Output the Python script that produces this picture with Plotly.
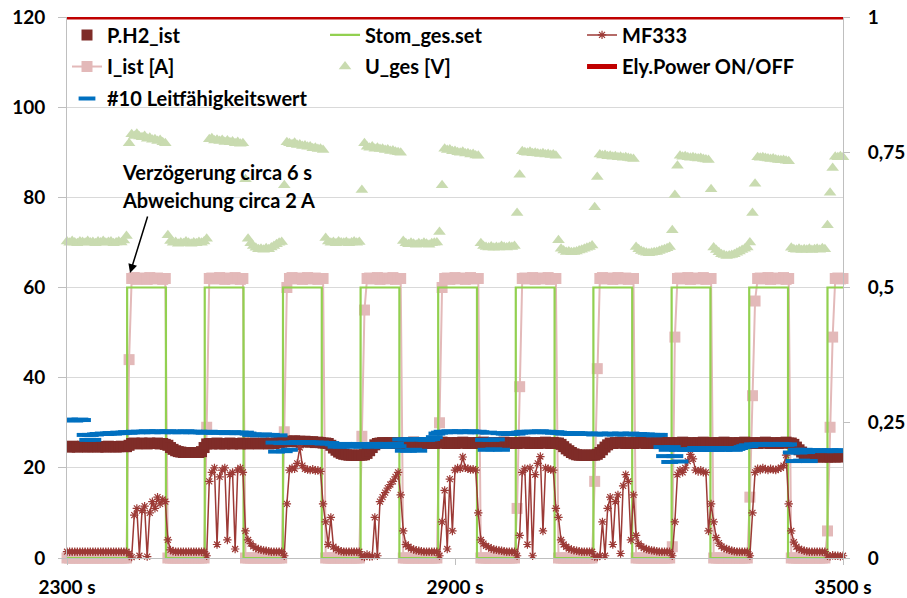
import plotly.graph_objects as go

# ---------------------------------------------------------------------------
# Sample times (4 s logging interval, 2300 s .. 3500 s)
# ---------------------------------------------------------------------------
T_START = 2300
T_STEP = 4
N_SAMPLES = 301
t = [T_START + T_STEP * i for i in range(N_SAMPLES)]

# Set point of the stack current (switching instants and levels)
stom_t = [2300, 2393, 2453, 2513, 2573, 2634, 2694, 2754, 2814, 2874, 2934,
          2994, 3054, 3114, 3174, 3235, 3295, 3355, 3415, 3476, 3500]
stom_v = [0, 60, 0, 60, 0, 60, 0, 60, 0, 60, 0,
          60, 0, 60, 0, 60, 0, 60, 0, 60, 60]

# Electrolyser power state (right axis)
power_t = [2300, 3500]
power_v = [1, 1]

# Measured stack current I_ist [A]
i_ist = [
    0, 0, 0, 0, 0, 0, 0, 0, 0, 0,
    0, 0, 0, 0, 0, 0, 0, 0, 0, 0,
    0, 0, 0, 0, 44, 62, 62.2, 61.8, 62, 62.1,
    62, 61.8, 62.2, 62, 61.9, 62.1, 62, 61.8, 62, 0,
    0, 0, 0, 0, 0, 0, 0, 0, 0, 0,
    0, 0, 0, 0, 29, 62, 62.1, 61.9, 62, 62.2,
    62, 61.8, 62.1, 62, 61.9, 62.2, 62, 61.8, 62, 0,
    0, 0, 0, 0, 0, 0, 0, 0, 0, 0,
    0, 0, 0, 0, 28, 60, 62, 62.2, 61.9, 62,
    62.1, 61.8, 62, 62.2, 61.9, 62, 62.1, 61.8, 62, 62,
    0, 0, 0, 0, 0, 0, 0, 0, 0, 0,
    0, 0, 0, 0, 27, 55, 62, 62.1, 61.9, 62,
    62.2, 61.8, 62, 62.1, 61.9, 62, 62.2, 61.8, 62, 62,
    0, 0, 0, 0, 0, 0, 0, 0, 0, 0,
    0, 0, 0, 0, 30, 60, 62, 62.1, 61.8, 62,
    62.2, 61.9, 62, 62.1, 61.8, 62, 62.2, 61.9, 62, 62,
    0, 0, 0, 0, 0, 0, 0, 0, 0, 0,
    0, 0, 0, 0, 11, 38, 62, 62.1, 61.9, 62,
    62.2, 61.8, 62, 62.1, 61.9, 62, 62.2, 61.8, 62, 62,
    0, 0, 0, 0, 0, 0, 0, 0, 0, 0,
    0, 0, 0, 0, 17, 42, 62, 62.2, 61.9, 62,
    62.1, 61.8, 62, 62.2, 61.9, 62, 62.1, 61.8, 62, 62,
    0, 0, 0, 0, 0, 0, 0, 0, 0, 0,
    0, 0, 0, 0, 2.5, 49, 62, 62.1, 61.9, 62,
    62.2, 61.8, 62, 62.1, 61.9, 62, 62.2, 61.8, 62, 62,
    0, 0, 0, 0, 0, 0, 0, 0, 0, 0,
    0, 0, 0, 0, 13.5, 36, 57, 62, 62.1, 61.9,
    62, 62.2, 61.8, 62, 62.1, 61.9, 62, 62.2, 61.8, 62,
    0, 0, 0, 0, 0, 0, 0, 0, 0, 0,
    0, 0, 0, 0, 6, 29, 49, 62, 62.1, 61.9,
    62,
]

# Stack voltage U_ges [V]
u_ges = [
    70.2, 69.9, 70.3, 70.0, 69.8, 70.2, 70.1, 69.9, 70.3, 70.0,
    70.1, 69.8, 70.2, 70.0, 70.3, 69.9, 70.1, 70.2, 69.8, 70.0,
    70.2, 70.0, 70.4, 71.4, 92.0, 94.0, 93.6, 94.1, 93.5, 93.3,
    93.6, 93.0, 93.2, 92.8, 92.9, 92.5, 92.7, 92.2, 92.0, 71.6,
    70.3, 69.9, 70.1, 69.7, 70.0, 69.8, 70.2, 69.9, 69.7, 70.0,
    69.8, 70.1, 69.9, 70.2, 70.8, 92.9, 93.1, 92.6, 92.8, 92.5,
    92.7, 92.3, 92.6, 92.2, 92.4, 92.0, 92.3, 91.9, 92.0, 84.0,
    70.8, 69.8, 69.2, 68.8, 68.5, 68.6, 68.4, 68.7, 68.5, 68.9,
    69.2, 69.6, 69.9, 70.1, 82.7, 92.2, 92.0, 91.8, 92.1, 91.6,
    91.7, 91.4, 91.5, 91.2, 91.3, 90.9, 91.0, 90.7, 90.8, 90.5,
    71.0, 70.2, 69.9, 70.1, 69.8, 70.2, 70.0, 69.9, 70.1, 69.8,
    70.0, 70.2, 69.9, 70.1, 81.6, 92.0, 91.2, 91.0, 91.3, 90.8,
    91.0, 90.7, 90.8, 90.5, 90.6, 90.3, 90.4, 90.1, 90.0, 89.9,
    70.3, 69.8, 69.6, 69.9, 69.7, 69.5, 69.8, 69.6, 69.9, 69.7,
    69.5, 69.8, 69.9, 70.0, 72.3, 82.7, 90.8, 90.5, 90.6, 90.2,
    90.3, 90.0, 89.9, 90.1, 89.7, 89.8, 89.5, 89.6, 89.3, 89.2,
    69.8, 69.2, 69.0, 68.9, 69.1, 68.8, 69.0, 68.9, 69.2, 69.0,
    68.9, 69.1, 69.0, 69.2, 76.5, 85.0, 90.2, 90.0, 89.9, 90.1,
    89.8, 89.9, 89.7, 89.6, 89.8, 89.5, 89.6, 89.4, 89.5, 89.2,
    70.5, 68.6, 68.2, 67.9, 68.0, 67.8, 67.9, 68.0, 68.2, 68.4,
    68.6, 68.8, 69.0, 69.3, 77.8, 84.5, 89.5, 89.3, 89.4, 89.1,
    89.2, 89.0, 89.1, 88.9, 89.0, 88.8, 88.9, 88.7, 88.6, 88.5,
    69.0, 68.5, 68.1, 67.9, 67.7, 67.6, 67.7, 67.8, 67.9, 68.1,
    68.3, 68.5, 68.7, 69.0, 72.7, 80.5, 87.0, 89.2, 89.0, 89.1,
    88.9, 88.8, 88.9, 88.7, 88.6, 88.7, 88.5, 88.4, 88.3, 81.8,
    68.9, 68.3, 67.8, 67.4, 67.2, 67.0, 67.1, 67.2, 67.4, 67.7,
    68.0, 68.3, 68.6, 68.9, 70.0, 76.5, 83.0, 88.9, 88.8, 88.9,
    88.7, 88.6, 88.5, 88.6, 88.4, 88.3, 88.2, 88.3, 88.1, 88.0,
    68.8, 68.5, 68.4, 68.6, 68.3, 68.5, 68.4, 68.6, 68.3, 68.5,
    68.6, 68.4, 68.7, 68.5, 73.8, 81.0, 86.5, 89.0, 88.9, 89.1,
    88.9,
]

# Hydrogen flow meter MF333
mf333 = [
    1.4, 1.4, 1.4, 1.4, 1.4, 1.4, 1.4, 1.4, 1.4, 1.4,
    1.4, 1.4, 1.4, 1.4, 1.4, 1.4, 1.4, 1.4, 1.4, 1.4,
    1.4, 1.4, 1.4, 1.4, 1.0, 0.2, 9.5, 11.0, 0.5, 10.5,
    11.5, 0.3, 10.0, 12.5, 11.0, 13.5, 12.0, 13.0, 12.5, 4.0,
    1.8, 1.5, 1.4, 1.4, 1.4, 1.4, 1.4, 1.4, 1.4, 1.4,
    1.4, 1.4, 1.4, 1.4, 0.5, 17.0, 19.0, 20.0, 3.0, 18.0,
    19.5, 20.0, 4.0, 18.5, 19.0, 2.0, 19.5, 20.0, 19.0, 6.0,
    4.0, 3.2, 2.6, 2.2, 2.0, 1.8, 1.7, 1.6, 1.5, 1.4,
    1.4, 1.4, 1.4, 1.4, 0.5, 12.0, 19.5, 20.0, 19.8, 21.0,
    24.5, 20.5, 19.8, 19.6, 19.5, 19.7, 19.4, 19.5, 19.2, 12.0,
    8.0, 3.0, 9.0, 2.5, 2.0, 1.7, 1.5, 1.4, 1.4, 1.4,
    1.4, 1.4, 1.4, 1.4, 0.5, 0.2, 0.8, 0.3, 0.4, 9.0,
    0.5, 12.5, 13.5, 14.5, 15.5, 16.3, 17.0, 18.0, 19.0, 14.0,
    6.0, 3.0, 2.5, 2.1, 1.9, 1.7, 1.6, 1.5, 1.4, 1.4,
    1.4, 1.4, 1.4, 1.4, 0.5, 8.0, 15.0, 2.0, 17.5, 6.0,
    19.5, 20.0, 19.8, 22.4, 20.0, 19.8, 19.6, 19.7, 19.5, 10.0,
    4.0, 3.2, 2.7, 2.4, 2.1, 1.9, 1.8, 1.7, 1.6, 1.5,
    1.4, 1.4, 1.4, 1.4, 0.5, 5.0, 19.0, 19.8, 3.0, 20.0,
    0.5, 18.5, 21.0, 22.5, 6.0, 20.0, 19.8, 19.6, 19.5, 11.0,
    9.0, 4.0, 3.0, 2.5, 2.1, 1.9, 1.7, 1.6, 1.5, 1.4,
    1.4, 1.4, 1.4, 1.4, 0.3, 0.2, 0.5, 8.0, 0.5, 11.0,
    13.5, 3.0, 12.5, 14.0, 1.0, 16.0, 18.5, 17.0, 4.0, 14.0,
    5.0, 3.2, 2.6, 2.2, 2.0, 1.8, 1.7, 1.6, 1.5, 1.4,
    1.4, 1.4, 1.4, 1.4, 0.5, 8.0, 18.5, 19.5, 19.0, 20.0,
    21.5, 23.0, 22.0, 19.5, 19.2, 19.5, 19.0, 19.0, 6.0, 12.0,
    8.0, 4.5, 3.3, 2.6, 2.2, 2.0, 1.8, 1.6, 1.5, 1.4,
    1.4, 1.4, 1.4, 1.4, 0.5, 10.0, 19.0, 19.8, 19.5, 20.0,
    19.7, 19.5, 19.8, 19.6, 19.5, 19.8, 20.0, 20.5, 22.8, 12.0,
    6.0, 3.5, 2.5, 2.0, 1.8, 1.6, 1.5, 1.4, 1.4, 1.4,
    1.4, 1.4, 1.4, 1.4, 0.5, 0.4, 0.6, 0.5, 0.5, 0.4,
    0.5,
]

# Hydrogen pressure P.H2_ist
p_h2 = [
    24.7, 24.6, 24.8, 24.7, 24.6, 24.7, 24.8, 24.7, 24.6, 24.7,
    24.7, 24.8, 24.6, 24.7, 24.7, 24.6, 24.8, 24.7, 24.7, 24.6,
    24.7, 24.8, 24.7, 24.7, 25.0, 25.4, 25.5, 25.3, 25.4, 25.5,
    25.4, 25.3, 25.5, 25.4, 25.4, 25.5, 25.3, 25.4, 25.2, 25.0,
    24.5, 24.1, 23.8, 23.6, 23.5, 23.4, 23.4, 23.4, 23.4, 23.4,
    23.4, 23.4, 23.6, 24.5, 25.3, 25.4, 25.3, 25.4, 25.5, 25.3,
    25.4, 25.3, 25.4, 25.5, 25.3, 25.4, 25.4, 25.3, 25.5, 25.4,
    25.3, 25.4, 25.5, 25.4, 25.3, 25.4, 25.5, 25.4, 25.3, 25.5,
    25.4, 25.5, 25.6, 25.7, 25.8, 25.9, 25.8, 25.9, 26.0, 25.8,
    25.9, 25.8, 25.9, 25.8, 25.7, 25.8, 25.6, 25.7, 25.6, 25.5,
    25.5, 25.4, 25.0, 24.4, 23.9, 23.5, 23.2, 23.0, 22.9, 22.8,
    22.8, 22.8, 22.8, 22.8, 22.8, 22.9, 23.2, 23.8, 24.5, 25.1,
    25.4, 25.5, 25.6, 25.5, 25.5, 25.6, 25.5, 25.4, 25.5, 25.6,
    25.5, 25.4, 25.6, 25.5, 25.7, 25.5, 25.4, 25.6, 25.5, 25.4,
    25.6, 25.5, 25.4, 25.6, 25.5, 25.7, 25.5, 25.4, 25.6, 25.5,
    25.4, 25.6, 25.5, 25.7, 25.5, 25.4, 25.6, 25.5, 25.4, 25.6,
    25.5, 25.7, 25.5, 25.4, 25.6, 25.5, 25.4, 25.6, 25.5, 25.7,
    25.5, 25.4, 25.6, 25.5, 25.4, 25.6, 25.5, 25.7, 25.5, 25.4,
    25.6, 25.5, 25.4, 25.6, 25.5, 25.7, 25.5, 25.4, 25.6, 25.5,
    25.5, 25.2, 24.7, 24.2, 23.8, 23.4, 23.1, 22.9, 22.8, 22.8,
    22.8, 22.8, 22.8, 22.8, 22.8, 23.0, 23.4, 24.0, 24.6, 25.1,
    25.5, 25.4, 25.6, 25.5, 25.7, 25.5, 25.4, 25.6, 25.5, 25.4,
    25.6, 25.5, 25.7, 25.5, 25.4, 25.6, 25.5, 25.4, 25.6, 25.5,
    25.7, 25.5, 25.4, 25.6, 25.5, 25.4, 25.6, 25.5, 25.7, 25.5,
    25.4, 25.6, 25.5, 25.4, 25.6, 25.5, 25.7, 25.5, 25.4, 25.6,
    25.5, 25.4, 25.6, 25.5, 25.7, 25.5, 25.4, 25.6, 25.5, 25.4,
    25.6, 25.5, 25.7, 25.5, 25.4, 25.6, 25.5, 25.4, 25.6, 25.5,
    25.7, 25.5, 25.4, 25.6, 25.5, 25.4, 25.6, 25.5, 25.7, 25.5,
    25.5, 25.2, 24.6, 24.0, 23.5, 23.1, 22.8, 22.6, 22.5, 22.5,
    22.4, 22.5, 22.4, 22.5, 22.4, 22.4, 22.5, 22.4, 22.5, 22.4,
    22.5,
]

# Conductivity reading #10
leit = [
    30.6, 30.7, 30.6, 30.5, 30.6, 30.7, 30.6, 27.3, 26.2, 27.3,
    26.2, 27.4, 27.5, 27.5, 27.6, 27.5, 27.6, 27.7, 27.6, 27.7,
    27.8, 27.7, 27.8, 27.9, 27.8, 27.9, 28.0, 27.9, 28.0, 27.9,
    28.0, 28.1, 28.0, 27.9, 28.0, 28.1, 28.0, 27.9, 28.0, 28.1,
    28.0, 27.9, 28.0, 28.0, 27.9, 28.0, 28.1, 28.0, 27.9, 28.0,
    27.9, 28.0, 27.9, 27.8, 27.9, 28.0, 27.9, 27.8, 27.9, 27.8,
    27.9, 27.8, 27.7, 27.8, 27.9, 27.8, 27.7, 27.8, 27.7, 27.8,
    27.6, 27.3, 27.4, 27.3, 27.2, 27.3, 27.4, 27.3, 27.2, 27.3,
    25.6, 23.6, 27.2, 25.5, 23.7, 25.6, 24.0, 25.5, 25.6, 25.7,
    25.6, 25.5, 25.6, 25.7, 25.6, 25.5, 25.6, 25.5, 25.6, 25.4,
    25.5, 25.4, 25.5, 25.2, 24.7, 25.2, 24.7, 25.3, 24.8, 25.2,
    24.7, 25.2, 24.8, 25.3, 24.7, 25.2, 24.8, 25.2, 24.7, 25.3,
    24.8, 25.2, 24.7, 25.3, 24.8, 25.2, 24.7, 25.3, 24.8, 26.3,
    23.8, 26.3, 23.8, 26.3, 24.0, 26.3, 23.8, 26.4, 26.3, 26.2,
    26.3, 26.4, 26.8, 27.6, 27.8, 28.0, 27.9, 28.0, 28.1, 28.0,
    27.9, 28.0, 28.1, 28.0, 27.9, 28.0, 28.1, 28.0, 27.9, 28.0,
    27.9, 26.2, 24.0, 27.8, 26.2, 24.1, 26.3, 27.7, 24.0, 27.6,
    27.6, 27.5, 27.6, 27.7, 27.6, 27.8, 27.9, 28.0, 27.9, 28.0,
    28.0, 27.9, 28.0, 28.1, 28.0, 27.9, 28.0, 27.9, 27.8, 27.9,
    27.8, 27.7, 27.6, 27.7, 27.6, 27.5, 27.6, 27.7, 27.6, 27.5,
    27.6, 27.5, 27.6, 27.5, 27.4, 27.5, 27.6, 27.5, 27.4, 27.5,
    27.6, 27.5, 27.4, 27.5, 27.6, 27.5, 27.4, 27.5, 27.6, 27.5,
    27.4, 27.5, 27.4, 27.3, 27.4, 27.3, 27.3, 27.2, 27.3, 27.3,
    24.6, 22.6, 24.0, 21.3, 24.6, 22.6, 24.0, 21.4, 24.1, 24.0,
    24.0, 24.1, 24.0, 24.4, 24.0, 24.1, 24.0, 24.4, 24.1, 24.0,
    24.1, 24.0, 24.4, 24.1, 24.0, 24.2, 24.4, 24.1, 24.0, 24.2,
    24.4, 24.6, 24.8, 25.0, 24.8, 25.2, 25.1, 25.2, 25.3, 25.2,
    25.1, 25.2, 25.3, 25.2, 25.1, 25.2, 25.3, 25.2, 25.1, 25.2,
    23.4, 21.5, 24.0, 23.4, 21.6, 24.0, 23.5, 21.5, 23.9, 23.8,
    23.8, 23.9, 23.8, 23.7, 23.8, 23.9, 23.8, 23.7, 23.8, 23.9,
    23.8,
]

# Axis tick labels
x_tickvals = [2300, 2900, 3500]
x_ticktext = ["2300 s", "2900 s", "3500 s"]
y2_tickvals = [0, 0.25, 0.5, 0.75, 1]
y2_ticktext = ["0", "0,25", "0,5", "0,75", "1"]

FONT = "Lato"
GRID = "#D9D9D9"
AXIS = "#BFBFBF"

fig = go.Figure()

fig.add_trace(go.Scatter(
    x=t, y=u_ges, name="U_ges [V]", mode="markers",
    marker=dict(symbol="triangle-up", size=11, color="#C9DBB0"),
    cliponaxis=False, legend="legend5",
))
fig.add_trace(go.Scatter(
    x=t, y=i_ist, name="I_ist [A]", mode="lines+markers",
    line=dict(color="#E3B9B9", width=2),
    marker=dict(symbol="square", size=11, color="#E3B9B9"),
    cliponaxis=False, legend="legend4",
))
fig.add_trace(go.Scatter(
    x=stom_t, y=stom_v, name="Stom_ges.set", mode="lines",
    line=dict(color="#92D050", width=2.2, shape="hv"),
    legend="legend2",
))
fig.add_trace(go.Scatter(
    x=t, y=p_h2, name="P.H2_ist", mode="markers",
    marker=dict(symbol="square", size=11, color="#7F2C28"),
    legend="legend", showlegend=True,
))
fig.add_trace(go.Scatter(
    x=t, y=mf333, name="MF333", mode="lines+markers",
    line=dict(color="#9C3A36", width=1.5),
    marker=dict(symbol="asterisk-open", size=7,
                line=dict(color="#9C3A36", width=1.2)),
    cliponaxis=False, legend="legend3",
))
fig.add_trace(go.Scatter(
    x=t, y=leit, name="#10 Leitfähigkeitswert", mode="markers",
    marker=dict(symbol="line-ew", size=12,
                line=dict(color="#0070C0", width=4)),
    legend="legend7",
))
fig.add_trace(go.Scatter(
    x=power_t, y=power_v, name="Ely.Power ON/OFF", mode="lines",
    line=dict(color="#C00000", width=5), yaxis="y2",
    cliponaxis=False, legend="legend6",
))

# Legend laid out as a 3-column grid: one single-entry legend per cell,
# anchored at the top so the plot margins stay fixed
COL_X = [0.0, 0.3325, 0.6637]
ROW_Y = [1.003, 0.9445, 0.8854]


def legend_cell(col, row):
    return dict(
        x=COL_X[col], y=ROW_Y[row], xanchor="left", yanchor="top",
        orientation="h", bgcolor="rgba(0,0,0,0)",
        font=dict(family=FONT, size=20, color="#000000", weight="bold"),
    )


fig.update_layout(
    width=907, height=598,
    margin=dict(l=67, r=64, t=17, b=40),
    paper_bgcolor="white", plot_bgcolor="white",
    showlegend=True,
    font=dict(family=FONT, size=19, color="#000000", weight="bold"),
    legend=legend_cell(0, 0),
    legend2=legend_cell(1, 0),
    legend3=legend_cell(2, 0),
    legend4=legend_cell(0, 1),
    legend5=legend_cell(1, 1),
    legend6=legend_cell(2, 1),
    legend7=legend_cell(0, 2),
    xaxis=dict(
        range=[2300, 3500], tickvals=x_tickvals, ticktext=x_ticktext,
        showgrid=False, zeroline=False, showline=True, linecolor=AXIS,
        linewidth=1, ticks="outside", ticklen=6, tickcolor=AXIS,
        ticklabelstandoff=6, automargin=False,
        tickfont=dict(family=FONT, size=19, weight="bold"),
    ),
    yaxis=dict(
        range=[0, 120], dtick=20, showgrid=True, gridcolor=GRID,
        zeroline=False, showline=True, linecolor=AXIS, linewidth=1,
        ticks="outside", ticklen=8, tickcolor=AXIS, ticklabelstandoff=9,
        automargin=False,
        tickfont=dict(family=FONT, size=19, weight="bold"),
    ),
    yaxis2=dict(
        range=[0, 1], overlaying="y", side="right",
        tickvals=y2_tickvals, ticktext=y2_ticktext, showgrid=False,
        zeroline=False, showline=True, linecolor=AXIS, linewidth=1,
        ticks="outside", ticklen=6, tickcolor=AXIS, ticklabelstandoff=14,
        automargin=False,
        tickfont=dict(family=FONT, size=19, weight="bold"),
    ),
    annotations=[
        dict(x=2382, y=85.6, xref="x", yref="y", xanchor="left",
             yanchor="middle", showarrow=False,
             text="Verzögerung circa 6 s",
             font=dict(family=FONT, size=20, weight="bold", color="#000000")),
        dict(x=2382, y=79.4, xref="x", yref="y", xanchor="left",
             yanchor="middle", showarrow=False,
             text="Abweichung circa 2 A",
             font=dict(family=FONT, size=20, weight="bold", color="#000000")),
        dict(x=2397.5, y=63.2, xref="x", yref="y", text="",
             showarrow=True, arrowhead=2, arrowsize=1.2, arrowwidth=1.5,
             arrowcolor="#000000", ax=18, ay=-58, axref="pixel",
             ayref="pixel"),
    ],
)

fig.write_html("out.html")
